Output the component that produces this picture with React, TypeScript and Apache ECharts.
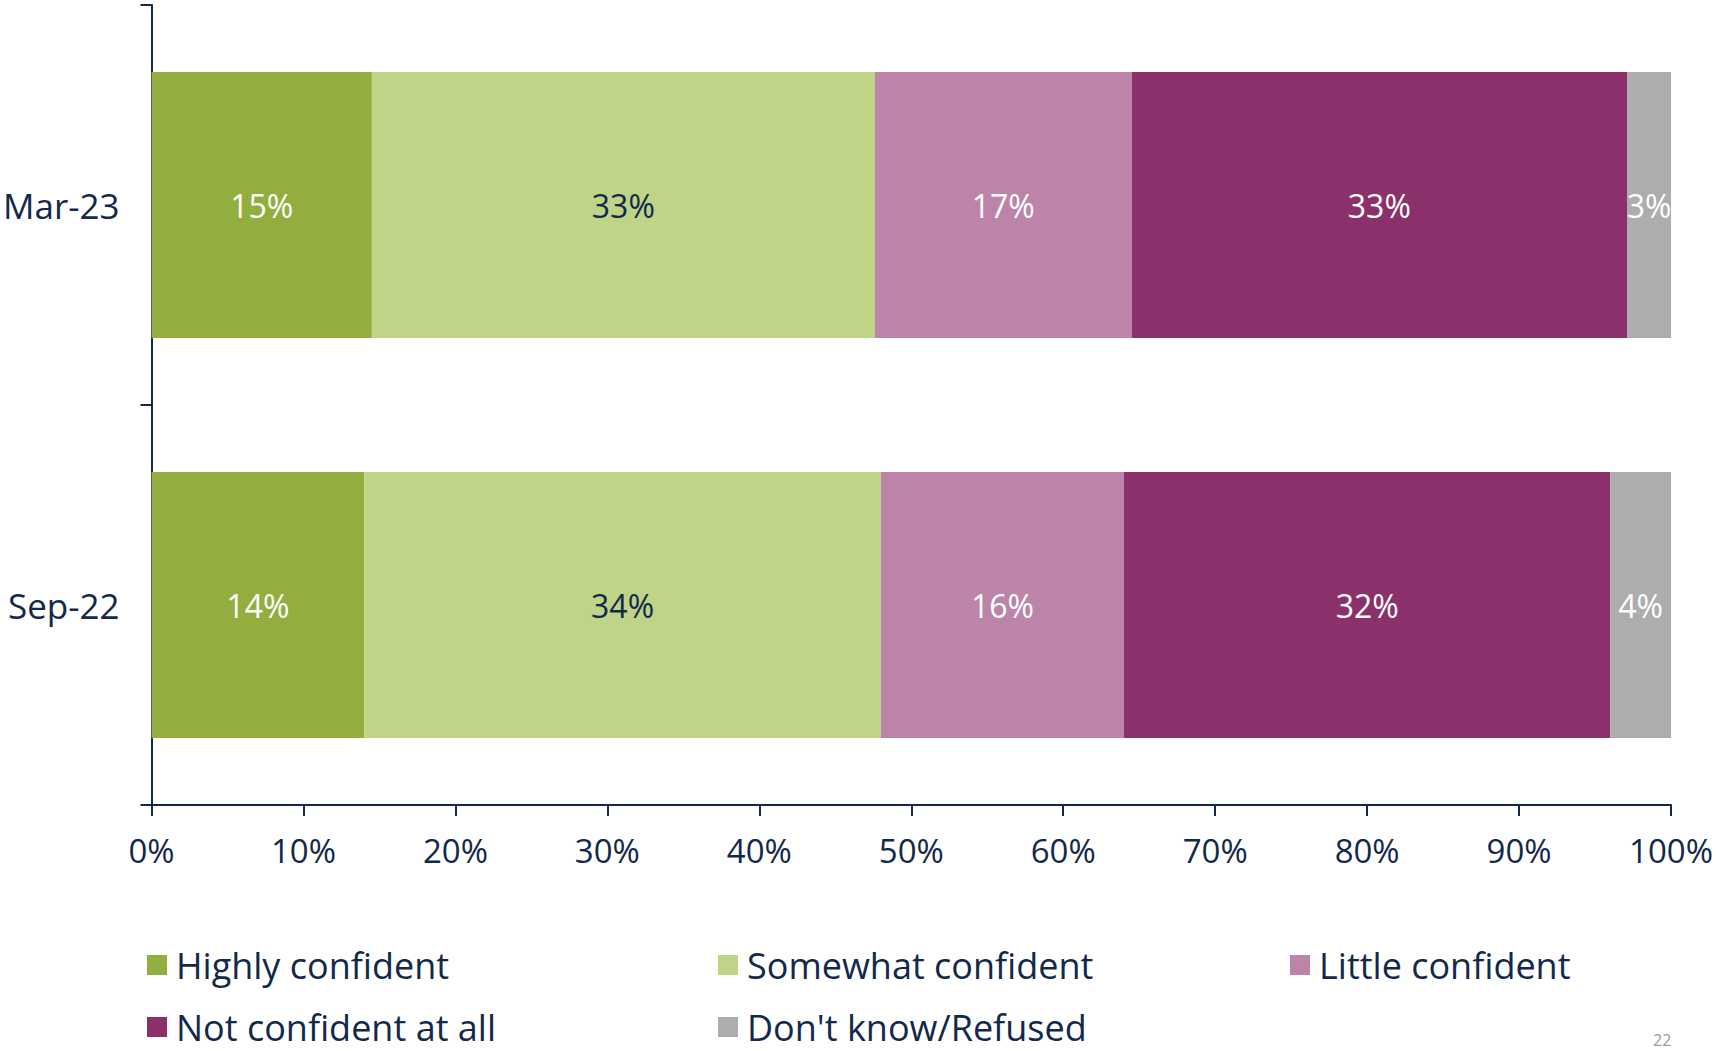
import React, { useEffect, useRef } from "react";
import * as echarts from "echarts";

const categories = ["Mar-23", "Sep-22"];
const seriesNames = [
  "Highly confident",
  "Somewhat confident",
  "Little confident",
  "Not confident at all",
  "Don't know/Refused",
];
const highlyConfident = [14.5, 14.0];
const somewhatConfident = [33.1, 34.0];
const littleConfident = [16.9, 16.0];
const notConfident = [32.6, 32.0];
const dontKnow = [2.9, 4.0];
const xTicks = [0, 10, 20, 30, 40, 50, 60, 70, 80, 90, 100];

const seriesValues = [highlyConfident, somewhatConfident, littleConfident, notConfident, dontKnow];
const colors = ["#92AE3F", "#BFD487", "#BC84A8", "#8C306B", "#ADADAD"];
const labelColors = ["#FFFFFF", "#13294B", "#FFFFFF", "#FFFFFF", "#FFFFFF"];
const NAVY = "#13294B";
const FONT = "'Open Sans', 'DejaVu Sans', sans-serif";

const legendPos = [
  { left: 147, top: 947 },
  { left: 718, top: 947 },
  { left: 1290, top: 947 },
  { left: 147, top: 1009 },
  { left: 718, top: 1009 },
];

export default function App() {
  const ref = useRef<HTMLDivElement>(null);
  useEffect(() => {
    if (!ref.current) return;
    const chart = echarts.init(ref.current, null, { renderer: "svg" });
    chart.setOption({
      animation: false,
      backgroundColor: "#FFFFFF",
      grid: { left: 149, right: 44, top: 5, bottom: 246, containLabel: false },
      xAxis: {
        type: "value",
        min: 0,
        max: 100,
        interval: 10,
        axisLine: { show: true, lineStyle: { color: NAVY, width: 2 } },
        axisTick: { show: true, length: 11, lineStyle: { color: NAVY, width: 2 } },
        splitLine: { show: false },
        axisLabel: {
          color: NAVY,
          fontSize: 33,
          fontFamily: FONT,
          margin: 29,
          formatter: (v: number) => (xTicks.includes(v) ? v + "%" : ""),
        },
      },
      yAxis: {
        type: "category",
        data: categories,
        inverse: true,
        axisLine: { show: true, lineStyle: { color: NAVY, width: 2 } },
        axisTick: { show: true, length: 11, lineStyle: { color: NAVY, width: 2 } },
        axisLabel: { color: NAVY, fontSize: 35, fontFamily: FONT, margin: 32 },
      },
      legend: legendPos.map((p, i) => ({
        data: [seriesNames[i]],
        left: p.left,
        top: p.top,
        padding: 0,
        icon: "rect",
        itemWidth: 20,
        itemHeight: 20,
        selectedMode: false,
        textStyle: { color: NAVY, fontSize: 36, fontFamily: FONT, padding: [0, 0, 0, 4] },
      })),
      graphic: [
        {
          type: "text",
          left: 1653,
          top: 1032,
          style: { text: "22", fill: "#9A9A9A", fontSize: 16, fontFamily: FONT },
        },
      ],
      series: seriesNames.map((name, i) => ({
        name,
        type: "bar",
        stack: "total",
        data: seriesValues[i],
        barWidth: "66.5%",
        itemStyle: { color: colors[i] },
        label: {
          show: true,
          position: "inside",
          color: labelColors[i],
          fontSize: 32,
          fontFamily: FONT,
          formatter: (p: any) => Math.round(p.value) + "%",
        },
      })),
    });
    return () => chart.dispose();
  }, []);
  return (
    <div
      ref={ref}
      style={{ position: "fixed", left: 0, top: 0, width: 1716, height: 1051 }}
    />
  );
}
